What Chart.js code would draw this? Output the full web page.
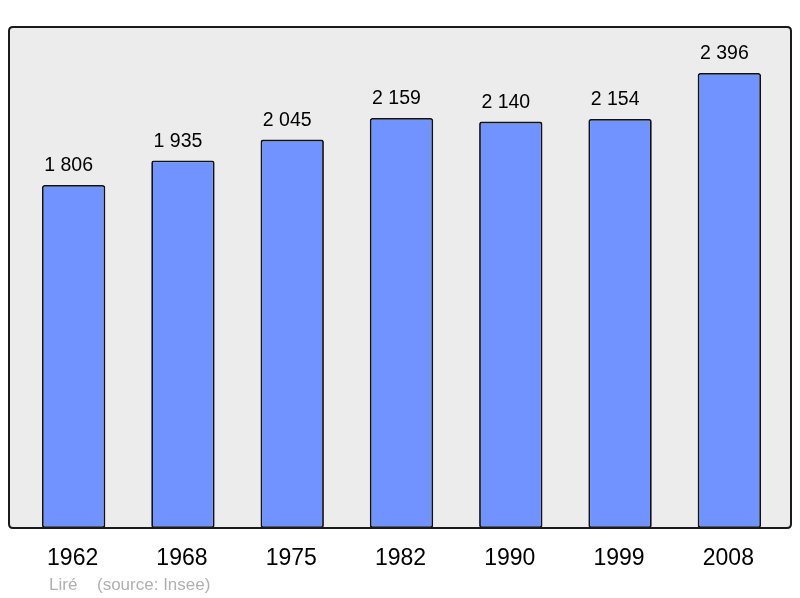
<!DOCTYPE html>
<html><head><meta charset="utf-8">
<script src="https://cdn.jsdelivr.net/npm/chart.js@4"></script>
<style>html,body{margin:0;padding:0;background:#fff;}canvas{display:block;}</style>
</head><body>
<canvas id="c" width="800" height="598"></canvas>
<script>
const years = ["1962","1968","1975","1982","1990","1999","2008"];
const population = [1806, 1935, 2045, 2159, 2140, 2154, 2396];
const valueLabels = ["1 806","1 935","2 045","2 159","2 140","2 154","2 396"];
const sourceCommune = "Liré";
const sourceText = "(source: Insee)";

function rr(ctx,x,y,w,h,r){ctx.beginPath();ctx.moveTo(x+r,y);ctx.lineTo(x+w-r,y);ctx.quadraticCurveTo(x+w,y,x+w,y+r);ctx.lineTo(x+w,y+h-r);ctx.quadraticCurveTo(x+w,y+h,x+w-r,y+h);ctx.lineTo(x+r,y+h);ctx.quadraticCurveTo(x,y+h,x,y+h-r);ctx.lineTo(x,y+r);ctx.quadraticCurveTo(x,y,x+r,y);ctx.closePath();}

const boxPlugin = {
  id:'box',
  beforeDatasetsDraw(chart){
    const ctx=chart.ctx;ctx.save();
    rr(ctx,9,27,782,501,4);ctx.fillStyle='#ececec';ctx.fill();
    ctx.restore();
  },
  afterDatasetsDraw(chart){
    const ctx=chart.ctx;ctx.save();
    rr(ctx,9,27,782,501,4);ctx.lineWidth=2;ctx.strokeStyle='#1a1a1a';ctx.stroke();
    const xs=chart.scales.x, ys=chart.scales.y;
    ctx.fillStyle='#000';ctx.textAlign='center';ctx.textBaseline='alphabetic';
    ctx.font='19.5px "Liberation Sans", Arial, sans-serif';
    population.forEach((v,i)=>{
      ctx.fillText(valueLabels[i], xs.getPixelForValue(i)-5, ys.getPixelForValue(v)-14);
    });
    ctx.font='23px "Liberation Sans", Arial, sans-serif';
    years.forEach((y,i)=>{ctx.fillText(y, xs.getPixelForValue(i)-1, 565);});
    ctx.fillStyle='#b0b0b0';ctx.textAlign='left';
    ctx.font='17px "Liberation Sans", Arial, sans-serif';
    ctx.fillText(sourceCommune,49,590);
    ctx.fillText(sourceText,97,590);
    ctx.restore();
  }
};

new Chart(document.getElementById('c'),{
  type:'bar',
  data:{labels:years,datasets:[{data:population,backgroundColor:'#7093ff',borderColor:'#111',borderWidth:1.8,borderRadius:2.5,borderSkipped:false,categoryPercentage:1,barPercentage:0.58}]},
  options:{
    responsive:false,animation:false,
    layout:{padding:{left:19,right:16,top:27,bottom:70}},
    plugins:{legend:{display:false},tooltip:{enabled:false}},
    scales:{
      x:{display:false},
      y:{display:false,min:0,max:2638}
    }
  },
  plugins:[boxPlugin]
});
</script>
</body></html>
